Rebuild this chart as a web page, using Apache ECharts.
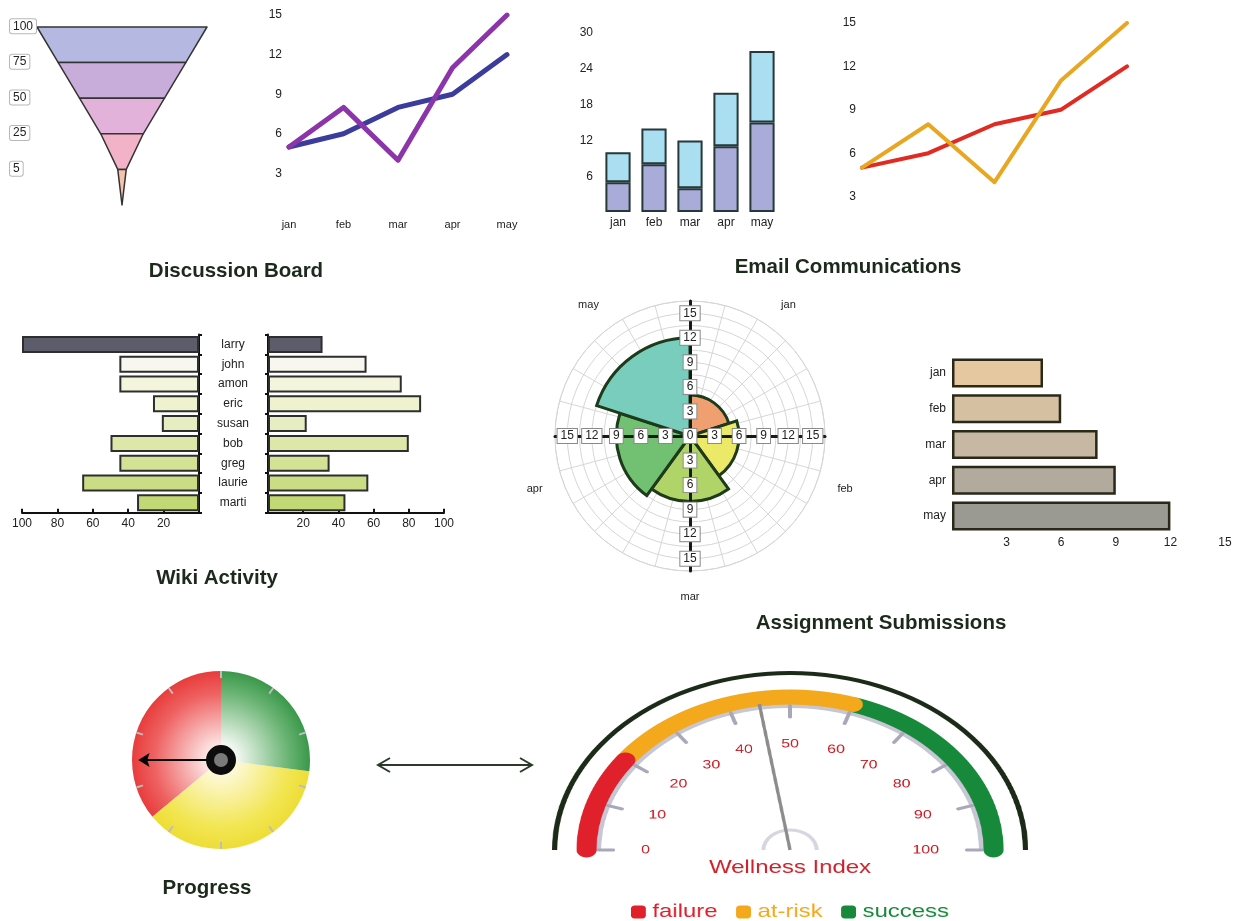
<!DOCTYPE html>
<html>
<head>
<meta charset="utf-8">
<title>Course Activity Dashboard</title>
<script src="https://cdn.jsdelivr.net/npm/echarts@6/dist/echarts.min.js"></script>
<style>
  html, body { margin: 0; padding: 0; background: #fff; }
  #main { position: absolute; left: 0; top: 0; width: 1236px; height: 921px; }
  #wellness { position: absolute; left: 540px; top: 660px; width: 376px; height: 261px;
              transform: scaleX(1.33); transform-origin: 0 0; }
</style>
</head>
<body>
<div id="main"></div>
<div id="wellness"></div>
<script>
// ---- data ----
const months = ['jan', 'feb', 'mar', 'apr', 'may'];
const funnelLevels = [100, 75, 50, 25, 5];
const postsA = [5, 6, 8, 9, 12];     // blue / red lines, upper stack, rose, submissions
const postsB = [5, 8, 4, 11, 15];    // purple / orange lines, lower stack
const people = ['larry', 'john', 'amon', 'eric', 'susan', 'bob', 'greg', 'laurie', 'marti'];
const wikiEdits = [100, 45, 45, 26, 21, 50, 45, 66, 35];
const wikiViews = [31, 56, 76, 87, 22, 80, 35, 57, 44];
const progressValue = 75;
const progressLimits = [27, 64, 100];
const wellnessValue = 45;
const wellnessBands = ['failure', 'at-risk', 'success'];
const wellnessLimits = [20, 60, 100];

// ---- styles ----
const FONT = '"Liberation Sans", Arial, sans-serif';
const INK = '#222';
const funnelColors = ['#b5b9e1', '#c8acd9', '#e2b2da', '#f2b3c9', '#f5c3ab'];
const wikiColors = ['#5c5c6a', '#f7f7f0', '#f3f5dc', '#eef2cf', '#e6edc0', '#dde8a8', '#d3e294', '#cadd84', '#c2d874'];
const roseColors = ['#f0a070', '#ece868', '#b0d468', '#72c172', '#78cdbd'];
const submitColors = ['#e6c8a0', '#d5c0a2', '#c6b8a2', '#b2aa9c', '#9a9a92'];
const bandColors = ['#e0202a', '#f4a81c', '#168a3a'];
const labelText = { color: INK, fontSize: 12, fontFamily: FONT };

const hidden = { show: false };

function titleText(text, x, y) {
  return {
    type: 'text', x: x, y: y, z: 20,
    style: { text: text, fill: '#1c2a1c', fontSize: 20.5, fontWeight: 'bold', fontFamily: FONT,
             align: 'center', verticalAlign: 'middle' }
  };
}

function radialFill(stops) {
  return new echarts.graphic.RadialGradient(221, 760, 89, stops, true);
}

const progressFills = [
  radialFill([{ offset: 0, color: '#ffffff' }, { offset: 0.2, color: '#eef6ee' }, { offset: 0.75, color: '#6cb575' }, { offset: 1, color: '#3a984a' }]),
  radialFill([{ offset: 0, color: '#fffef2' }, { offset: 0.2, color: '#fdf8d0' }, { offset: 0.75, color: '#f2e654' }, { offset: 1, color: '#eedd36' }]),
  radialFill([{ offset: 0, color: '#fff4f4' }, { offset: 0.2, color: '#fbdede' }, { offset: 0.75, color: '#ee6262' }, { offset: 1, color: '#e83c3c' }])
];

// radius axes drawn as four arms (up, right, down, left)
const armAngles = [90, 0, 270, 180];
const polarCenter = [690, 436];
const polarRadius = 135;

const polars = [{ center: polarCenter, radius: polarRadius }, { center: polarCenter, radius: polarRadius }]
  .concat(armAngles.map(() => ({ center: polarCenter, radius: polarRadius })));

const angleAxes = [
  { polarIndex: 0, type: 'category', data: months, startAngle: 90, clockwise: true,
    axisLine: hidden, axisTick: hidden, splitLine: hidden,
    axisLabel: { margin: 20, fontSize: 11, color: INK, fontFamily: FONT } },
  { polarIndex: 1, type: 'value', min: 0, max: 360, interval: 15, startAngle: 90,
    axisLine: { show: true, lineStyle: { color: '#d6d6d6', width: 1 } }, axisTick: hidden, axisLabel: hidden,
    splitLine: { show: true, lineStyle: { color: '#d6d6d6', width: 1 } } }
].concat(armAngles.map((a, i) => ({ polarIndex: i + 2, type: 'value', startAngle: a, show: false })));

const radiusAxes = [
  { polarIndex: 0, type: 'value', min: 0, max: 16.5, show: false },
  { polarIndex: 1, type: 'value', min: 0, max: 16.5, interval: 1.5,
    axisLine: hidden, axisTick: hidden, axisLabel: hidden,
    splitLine: { show: true, lineStyle: { color: '#d6d6d6', width: 1 } } }
].concat(armAngles.map((a, i) => ({
  polarIndex: i + 2, type: 'value', min: 0, max: 16.5, interval: 3, z: 10,
  axisLine: { show: true, lineStyle: { color: '#151a12', width: 3 } },
  axisTick: { show: true, length: 7, lineStyle: { color: '#151a12', width: 3 } },
  splitLine: hidden,
  axisLabel: { showMinLabel: i === 0, showMaxLabel: false, margin: 0, align: 'center', verticalAlign: 'middle',
               backgroundColor: '#fff', borderColor: '#8a8a8a', borderWidth: 1, padding: [1, 3],
               color: INK, fontSize: 12, fontFamily: FONT }
})));

const option = {
  animation: false,
  textStyle: { fontFamily: FONT },
  grid: [
    { left: 289, right: 729, top: 15, bottom: 708 },          // discussion lines
    { left: 600, right: 456, top: 33, bottom: 709 },          // email stacked bars
    { left: 862, right: 109, top: 23, bottom: 681 },          // email lines
    { left: 22, right: 1037, top: 334.5, bottom: 408.3 },     // wiki edits (mirrored)
    { left: 268, right: 792, top: 334.5, bottom: 408.3 },     // wiki views
    { left: 952, right: 11, top: 355, bottom: 387 }           // submissions
  ],
  xAxis: [
    { gridIndex: 0, type: 'category', data: months, boundaryGap: false,
      axisLine: hidden, axisTick: hidden, axisLabel: { margin: 6, fontSize: 11, color: INK } },
    { gridIndex: 1, type: 'category', data: months,
      axisLine: hidden, axisTick: hidden, axisLabel: Object.assign({ margin: 5 }, labelText) },
    { gridIndex: 2, type: 'category', data: months, boundaryGap: false, show: false },
    { gridIndex: 3, type: 'value', inverse: true, min: 0, max: 100, interval: 20,
      axisLine: { show: true, lineStyle: { color: '#111', width: 2 } },
      axisTick: { show: true, inside: true, length: 4, lineStyle: { color: '#111', width: 2 } },
      splitLine: hidden, axisLabel: Object.assign({ showMinLabel: false, margin: 5 }, labelText) },
    { gridIndex: 4, type: 'value', min: 0, max: 100, interval: 20,
      axisLine: { show: true, lineStyle: { color: '#111', width: 2 } },
      axisTick: { show: true, inside: true, length: 4, lineStyle: { color: '#111', width: 2 } },
      splitLine: hidden, axisLabel: Object.assign({ showMinLabel: false, margin: 5 }, labelText) },
    { gridIndex: 5, type: 'value', min: 0, max: 15, interval: 3,
      axisLine: hidden, axisTick: hidden, splitLine: hidden,
      axisLabel: Object.assign({ showMinLabel: false, margin: 3 }, labelText) }
  ],
  yAxis: [
    { gridIndex: 0, type: 'value', min: 0, max: 15, interval: 3, axisLine: hidden, axisTick: hidden,
      splitLine: hidden, axisLabel: Object.assign({ showMinLabel: false, margin: 7 }, labelText) },
    { gridIndex: 1, type: 'value', min: 0, max: 30, interval: 6, axisLine: hidden, axisTick: hidden,
      splitLine: hidden, axisLabel: Object.assign({ showMinLabel: false, margin: 7 }, labelText) },
    { gridIndex: 2, type: 'value', min: 0, max: 15, interval: 3, axisLine: hidden, axisTick: hidden,
      splitLine: hidden, axisLabel: Object.assign({ showMinLabel: false, margin: 6 }, labelText) },
    { gridIndex: 3, type: 'category', data: people, inverse: true, position: 'right',
      axisLine: { show: true, lineStyle: { color: '#111', width: 2 } },
      axisTick: { show: true, length: 3, lineStyle: { color: '#111', width: 2 } },
      axisLabel: hidden },
    { gridIndex: 4, type: 'category', data: people, inverse: true, position: 'left',
      axisLine: { show: true, lineStyle: { color: '#111', width: 2 } },
      axisTick: { show: true, length: 3, lineStyle: { color: '#111', width: 2 } },
      axisLabel: Object.assign({ margin: 35, align: 'center' }, labelText) },
    { gridIndex: 5, type: 'category', data: months, inverse: true, axisLine: hidden, axisTick: hidden,
      axisLabel: Object.assign({ margin: 6 }, labelText) }
  ],
  polar: polars,
  angleAxis: angleAxes,
  radiusAxis: radiusAxes,
  series: [
    // funnel of participation levels
    { type: 'funnel', left: 37, top: 27, width: 170, height: 178, sort: 'none', gap: 0,
      min: 0, max: 100, minSize: '0%', maxSize: '100%',
      data: funnelLevels.map(v => ({ value: v, name: String(v) })),
      itemStyle: { color: p => funnelColors[p.dataIndex], borderColor: '#333', borderWidth: 1.5 },
      label: { show: true, position: 'left', formatter: '{c}', color: INK, fontSize: 12,
               backgroundColor: '#fff', borderColor: '#b8b8b8', borderWidth: 1, borderRadius: 2, padding: [1, 3] },
      labelLine: hidden,
      labelLayout: p => ({ x: 10, y: p.rect.y, align: 'left', verticalAlign: 'middle' }) },

    // discussion board lines
    { type: 'line', xAxisIndex: 0, yAxisIndex: 0, data: postsA, symbol: 'none',
      lineStyle: { color: '#3c3c9c', width: 5, cap: 'round', join: 'round' } },
    { type: 'line', xAxisIndex: 0, yAxisIndex: 0, data: postsB, symbol: 'none',
      lineStyle: { color: '#8c34aa', width: 5, cap: 'round', join: 'round' } },

    // email stacked bars
    { type: 'bar', xAxisIndex: 1, yAxisIndex: 1, stack: 'mail', data: postsB, barCategoryGap: '30%',
      itemStyle: { color: '#a9acd9', borderColor: '#25393a', borderWidth: 2 } },
    { type: 'bar', xAxisIndex: 1, yAxisIndex: 1, stack: 'mail', data: postsA, barCategoryGap: '30%',
      itemStyle: { color: '#aadff2', borderColor: '#25393a', borderWidth: 2 } },

    // email lines
    { type: 'line', xAxisIndex: 2, yAxisIndex: 2, data: postsA, symbol: 'none',
      lineStyle: { color: '#e02a22', width: 4, cap: 'round', join: 'round' } },
    { type: 'line', xAxisIndex: 2, yAxisIndex: 2, data: postsB, symbol: 'none',
      lineStyle: { color: '#e8a621', width: 4, cap: 'round', join: 'round' } },

    // wiki activity (butterfly)
    { type: 'bar', xAxisIndex: 3, yAxisIndex: 3, data: wikiEdits, barCategoryGap: '14%',
      itemStyle: { color: p => wikiColors[p.dataIndex], borderColor: '#2e2e2e', borderWidth: 2 } },
    { type: 'bar', xAxisIndex: 4, yAxisIndex: 4, data: wikiViews, barCategoryGap: '14%',
      itemStyle: { color: p => wikiColors[p.dataIndex], borderColor: '#2e2e2e', borderWidth: 2 } },

    // assignment submissions
    { type: 'bar', xAxisIndex: 5, yAxisIndex: 5, data: postsA, barCategoryGap: '19%',
      itemStyle: { color: p => submitColors[p.dataIndex], borderColor: '#2a2818', borderWidth: 2.5 } },
    { type: 'bar', coordinateSystem: 'polar', polarIndex: 0, data: postsA, barCategoryGap: '0%', z: 5,
      itemStyle: { color: p => roseColors[p.dataIndex], borderColor: '#1d3a1a', borderWidth: 3 } },

    // progress dial
    { type: 'gauge', center: [221, 760], radius: 89, startAngle: 90, endAngle: -270,
      min: 0, max: 100, splitNumber: 10,
      axisLine: { lineStyle: { width: 89, color: progressLimits.map((l, i) => [l / 100, progressFills[i]]) } },
      axisTick: hidden,
      splitLine: { show: true, distance: -89, length: 7, lineStyle: { color: '#bdbdbd', width: 2 } },
      axisLabel: hidden,
      pointer: { icon: 'path://M7,0 L14,11 L8,9 L8,80 L6,80 L6,9 L0,11 Z', length: '93%', width: 14,
                 itemStyle: { color: '#050505' } },
      anchor: { show: true, showAbove: true, size: 22, itemStyle: { color: '#7a7a7a', borderColor: '#0c0c0c', borderWidth: 8 } },
      title: hidden, detail: hidden,
      data: [{ value: progressValue }] }
  ],
  graphic: [
    titleText('Discussion Board', 236, 271),
    titleText('Email Communications', 848, 267),
    titleText('Wiki Activity', 217, 578),
    titleText('Assignment Submissions', 881, 623),
    titleText('Progress', 207, 888),
    { type: 'line', z: 20, shape: { x1: 378, y1: 765, x2: 532, y2: 765 },
      style: { stroke: '#2b3a2b', lineWidth: 2 } },
    { type: 'polyline', z: 20, shape: { points: [[390, 758], [378, 765], [390, 772]] },
      style: { stroke: '#2b3a2b', lineWidth: 2, fill: null } },
    { type: 'polyline', z: 20, shape: { points: [[520, 758], [532, 765], [520, 772]] },
      style: { stroke: '#2b3a2b', lineWidth: 2, fill: null } }
  ]
};

echarts.init(document.getElementById('main'), null, { renderer: 'canvas' }).setOption(option);

// ---- wellness index gauge ----
const wc = [188, 190];
const arcOnly = (radius, width, color) => ({
  type: 'gauge', center: wc, radius: radius, startAngle: 180, endAngle: 0, silent: true,
  axisLine: { lineStyle: { width: width, color: [[1, color]] } },
  axisTick: hidden, splitLine: hidden, axisLabel: hidden, pointer: hidden, anchor: hidden,
  title: hidden, detail: hidden, data: []
});

let prev = 0;
const bandSizes = wellnessLimits.map(l => { const s = l - prev; prev = l; return s; });

const wellnessOption = {
  animation: false,
  textStyle: { fontFamily: FONT },
  legend: {
    left: 'center', top: 238, icon: 'roundRect', itemWidth: 11, itemHeight: 13, itemGap: 14,
    selectedMode: false,
    textStyle: { fontSize: 18, fontFamily: FONT },
    data: wellnessBands.map((n, i) => ({ name: n, textStyle: { color: bandColors[i] } }))
  },
  series: [
    arcOnly(179, 4, '#1b2b18'),
    arcOnly(146, 4, '#c6c6d4'),
    arcOnly(21.5, 3, '#d6d6de'),
    { type: 'gauge', center: wc, radius: 160.5, startAngle: 180, endAngle: 0,
      min: 0, max: 100, splitNumber: 10,
      axisLine: { roundCap: true, lineStyle: { width: 15,
        color: wellnessLimits.map((l, i) => [l / 100, bandColors[i]]) } },
      axisTick: hidden,
      splitLine: { show: true, distance: 1.5, length: 11, lineStyle: { color: '#a8a8ba', width: 3, cap: 'round' } },
      axisLabel: { distance: 36, color: '#c8161e', fontSize: 12, fontFamily: FONT },
      pointer: { icon: 'rect', length: '92%', width: 2.5, itemStyle: { color: '#8c8c8c' } },
      anchor: hidden,
      title: { offsetCenter: [0, 18], color: '#d0202a', fontSize: 18, fontFamily: FONT },
      detail: hidden,
      data: [{ value: wellnessValue, name: 'Wellness Index' }] },
    { type: 'pie', center: wc, radius: [0, 0], silent: true, label: hidden, labelLine: hidden,
      data: wellnessBands.map((n, i) => ({ name: n, value: bandSizes[i], itemStyle: { color: bandColors[i] } })) }
  ]
};

echarts.init(document.getElementById('wellness'), null, { devicePixelRatio: 2 }).setOption(wellnessOption);
</script>
</body>
</html>
